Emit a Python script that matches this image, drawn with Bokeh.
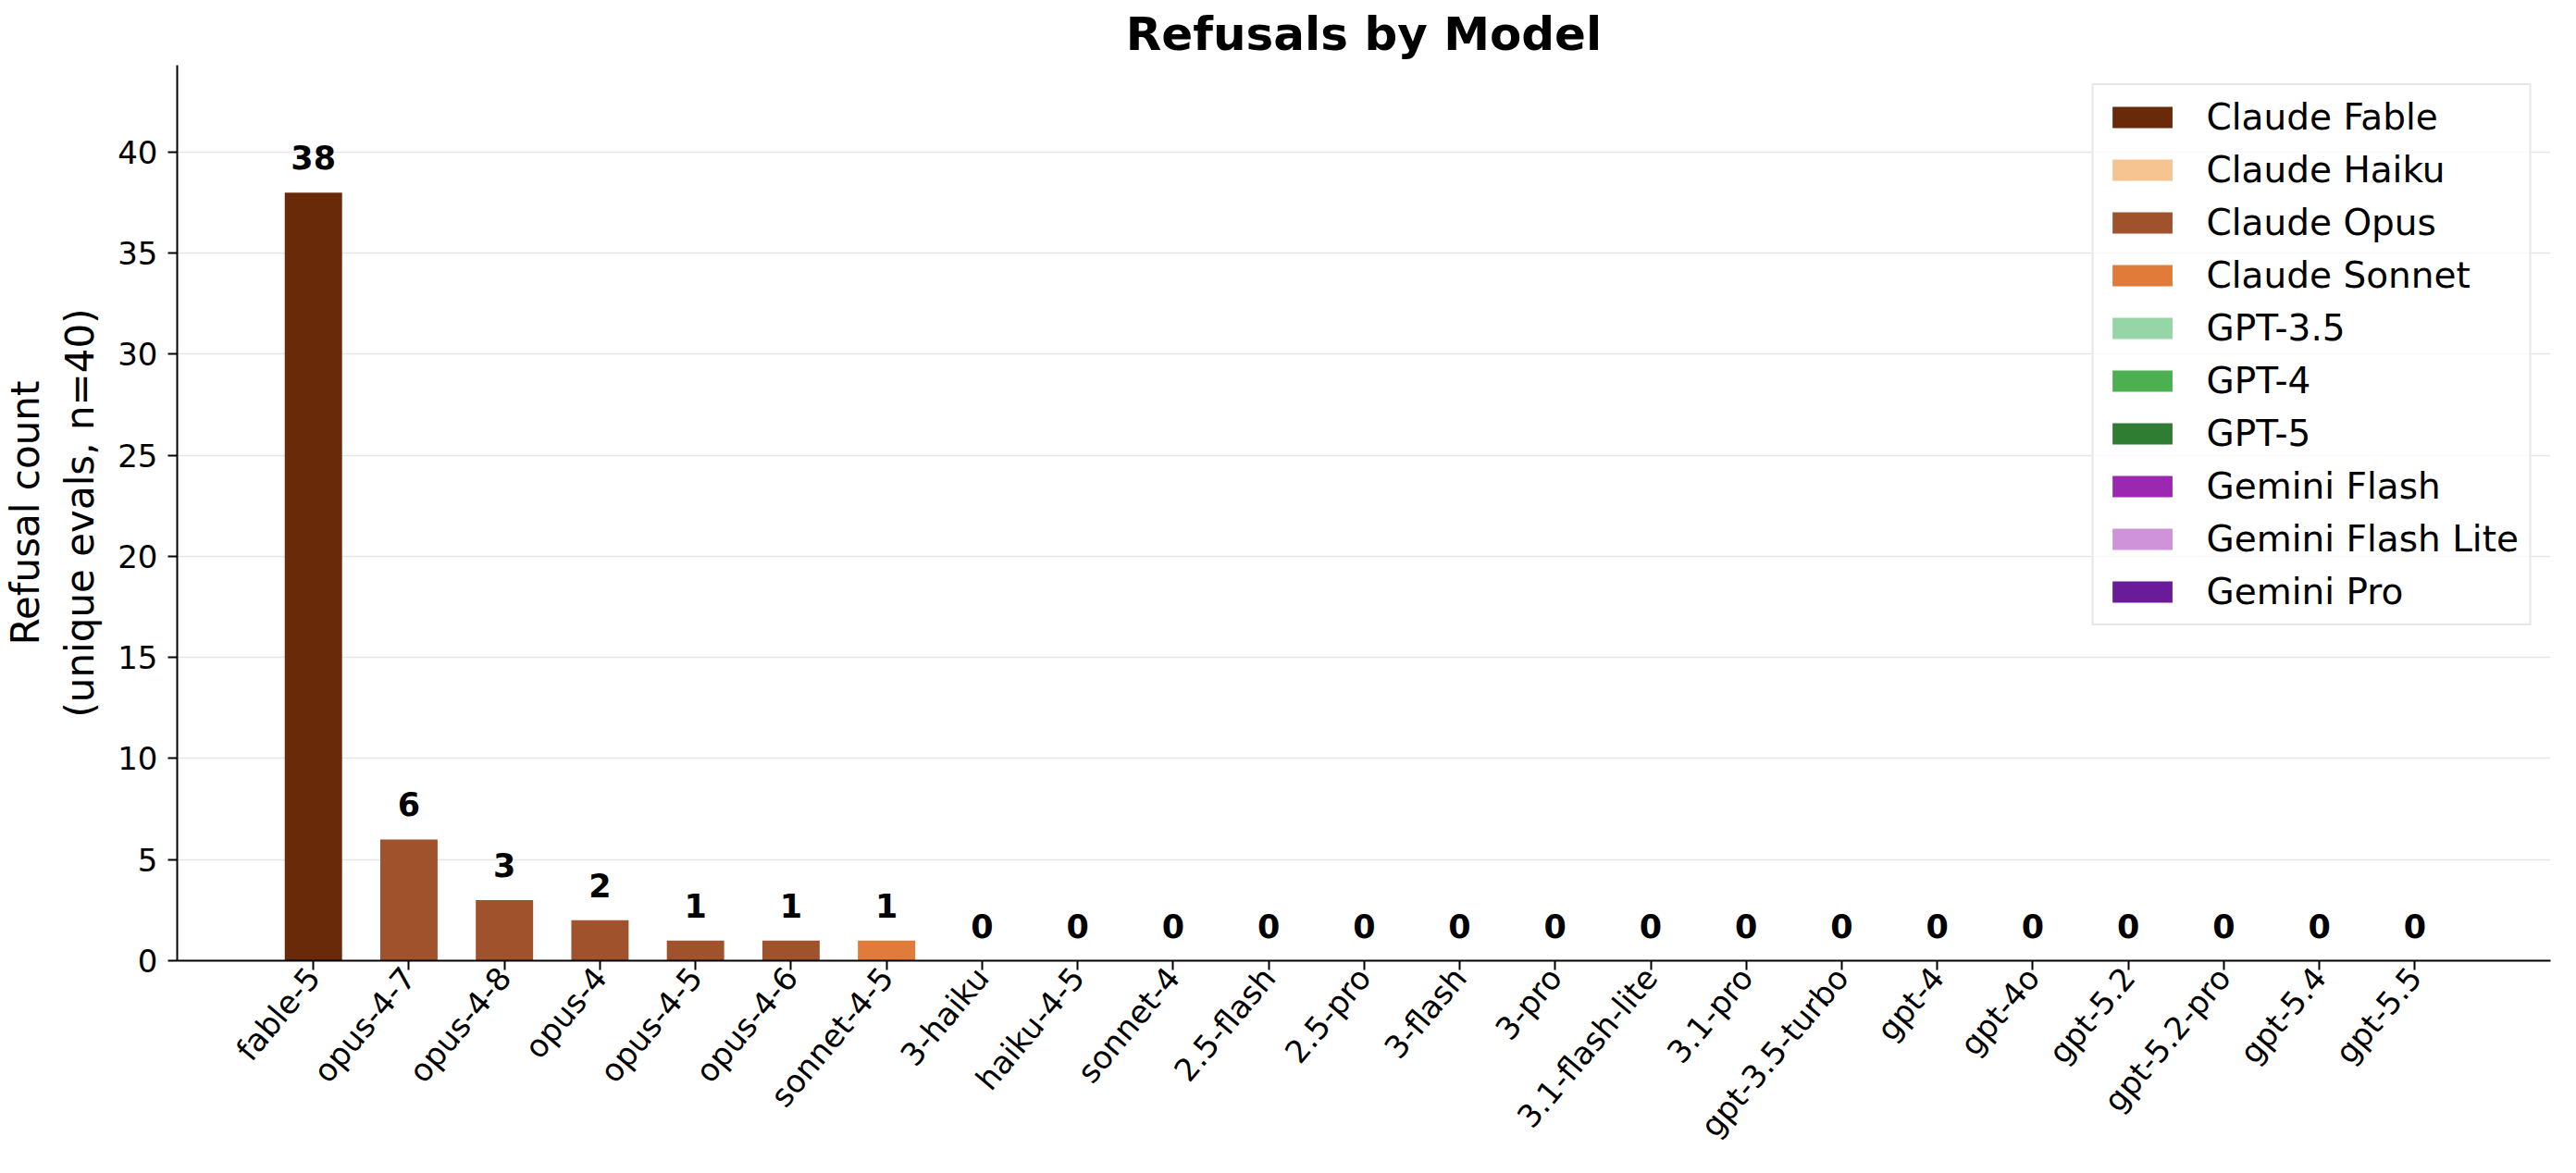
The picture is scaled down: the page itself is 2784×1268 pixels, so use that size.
from bokeh.plotting import figure
from bokeh.models import Range1d, FixedTicker, Legend, LegendItem, ColumnDataSource
from bokeh.core.properties import value
from bokeh.embed import file_html
from bokeh.resources import INLINE
import math

# ---- data ----
models = ["fable-5", "opus-4-7", "opus-4-8", "opus-4", "opus-4-5", "opus-4-6",
          "sonnet-4-5", "3-haiku", "haiku-4-5", "sonnet-4", "2.5-flash", "2.5-pro",
          "3-flash", "3-pro", "3.1-flash-lite", "3.1-pro", "gpt-3.5-turbo", "gpt-4",
          "gpt-4o", "gpt-5.2", "gpt-5.2-pro", "gpt-5.4", "gpt-5.5"]
families = ["Claude Fable", "Claude Opus", "Claude Opus", "Claude Opus", "Claude Opus",
            "Claude Opus", "Claude Sonnet", "Claude Haiku", "Claude Haiku", "Claude Sonnet",
            "Gemini Flash", "Gemini Pro", "Gemini Flash", "Gemini Pro", "Gemini Flash Lite",
            "Gemini Pro", "GPT-3.5", "GPT-4", "GPT-4", "GPT-5", "GPT-5", "GPT-5", "GPT-5"]
refusals = [38, 6, 3, 2, 1, 1, 1, 0, 0, 0, 0, 0, 0, 0, 0, 0, 0, 0, 0, 0, 0, 0, 0]

family_order = ["Claude Fable", "Claude Haiku", "Claude Opus", "Claude Sonnet",
                "GPT-3.5", "GPT-4", "GPT-5", "Gemini Flash", "Gemini Flash Lite",
                "Gemini Pro"]
family_colors = ["#692a0a", "#f5c491", "#a0522d", "#e07b39", "#96d5a5",
                 "#4caf50", "#2e7d32", "#9c27b0", "#ce93d8", "#6a1b9a"]

y_ticks = [0, 5, 10, 15, 20, 25, 30, 35, 40]

FONT = "DejaVu Sans"

xs = list(range(len(models)))

p = figure(width=2768, height=1252, output_backend="svg", toolbar_location=None,
           x_range=Range1d(-1.426, len(models) - 1 + 1.42), y_range=Range1d(0, 44.3),
           min_border_left=179, min_border_right=12, min_border_top=65,
           min_border_bottom=212, title="Refusals by Model")

p.title.text_font = FONT
p.title.text_font_size = "50px"
p.title.text_font_style = "bold"
p.title.align = "center"
p.title.text_color = "black"

p.outline_line_color = None
p.background_fill_color = "white"

items = []
for fam, col in zip(family_order, family_colors):
    idx = [i for i, f in enumerate(families) if f == fam]
    src = ColumnDataSource(dict(x=[xs[i] for i in idx], top=[refusals[i] for i in idx]))
    r = p.vbar(x="x", top="top", bottom=0, width=0.6, source=src,
               fill_color=col, line_color=None)
    items.append(LegendItem(label=fam, renderers=[r]))

p.text(x=xs, y=refusals, text=[str(v) for v in refusals],
       text_align="center", text_baseline="alphabetic", y_offset=-38,
       text_font=value(FONT), text_font_style="bold", text_font_size="35px",
       text_color="black")

legend = Legend(items=items, location="top_right")
legend.label_text_font = FONT
legend.label_text_font_size = "39px"
legend.label_text_color = "black"
legend.glyph_width = 81
legend.glyph_height = 29
legend.label_standoff = 29
legend.label_height = 29
legend.spacing = 12
legend.padding = 12
legend.margin = 20
legend.border_line_color = "#cfcfcf"
legend.border_line_width = 2
legend.background_fill_color = "white"
legend.background_fill_alpha = 0.8
p.add_layout(legend)

# axes
p.xaxis.ticker = FixedTicker(ticks=xs)
p.xaxis.major_label_overrides = {i: m for i, m in enumerate(models)}
p.xaxis.major_label_orientation = math.radians(50)
p.yaxis.ticker = FixedTicker(ticks=y_ticks)

for ax in (p.xaxis[0], p.yaxis[0]):
    ax.axis_line_color = "black"
    ax.axis_line_width = 2
    ax.major_tick_line_color = "black"
    ax.major_tick_line_width = 2
    ax.major_tick_out = 10
    ax.major_tick_in = 0
    ax.minor_tick_line_color = None
    ax.major_label_text_font = FONT
    ax.major_label_text_color = "black"

p.xaxis.major_label_standoff = 2
p.yaxis.major_label_standoff = 11
p.xaxis.major_label_text_font_size = "34px"
p.yaxis.major_label_text_font_size = "34px"

p.yaxis.axis_label = "Refusal count\n(unique evals, n=40)"
p.yaxis.axis_label_text_font = FONT
p.yaxis.axis_label_text_font_size = "42px"
p.yaxis.axis_label_text_font_style = "normal"
p.yaxis.axis_label_text_color = "black"
p.yaxis.axis_label_standoff = 13

p.xgrid.visible = False
p.ygrid.grid_line_color = "#e5e5e5"
p.ygrid.grid_line_width = 1.5

open("out.html", "w").write(file_html(p, INLINE))
